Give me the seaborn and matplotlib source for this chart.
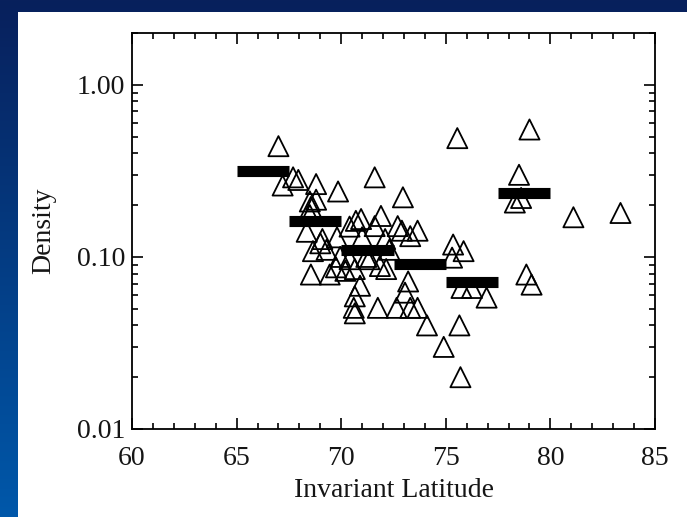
import numpy as np
import pandas as pd
import matplotlib
matplotlib.use("Agg")
import matplotlib.pyplot as plt
import matplotlib.ticker as mticker
import seaborn as sns

# ---- data ----
latitude = [67.0, 67.2, 67.7, 67.95, 68.8, 69.85, 68.5, 68.8, 68.55, 68.5,
            68.35, 68.65, 68.55, 69.1, 69.3, 69.45, 69.75, 69.8, 69.95, 70.4,
            70.7, 70.95, 70.65, 70.4, 70.65, 70.6, 70.65, 70.9, 71.6, 71.35,
            71.6, 71.9, 71.85, 72.15, 72.1, 72.7, 72.95, 72.9, 73.3, 73.65,
            73.2, 73.05, 71.75, 72.65, 73.3, 73.65, 74.1, 74.9, 75.65, 75.7,
            75.55, 75.35, 75.85, 75.3, 75.75, 76.25, 76.95, 78.5, 78.3, 78.6,
            79.0, 78.85, 79.1, 81.1, 83.35, 72.3, 71.2, 69.0, 70.2, 71.0]
density = [0.44, 0.26, 0.29, 0.28, 0.265, 0.24, 0.21, 0.215, 0.195, 0.175,
           0.14, 0.108, 0.079, 0.127, 0.11, 0.079, 0.087, 0.13, 0.10, 0.15,
           0.162, 0.166, 0.085, 0.097, 0.059, 0.0506, 0.047, 0.068, 0.29, 0.097,
           0.151, 0.173, 0.0885, 0.085, 0.127, 0.151, 0.222, 0.142, 0.132, 0.142,
           0.072, 0.062, 0.0506, 0.0506, 0.0506, 0.0506, 0.040, 0.030, 0.040, 0.020,
           0.49, 0.118, 0.108, 0.099, 0.066, 0.066, 0.058, 0.30, 0.207, 0.22,
           0.55, 0.079, 0.069, 0.17, 0.18, 0.11, 0.10, 0.12, 0.083, 0.13]

bin_start = [65.0, 67.5, 70.0, 72.5, 75.0, 77.5]
bin_end = [67.5, 70.0, 72.5, 75.0, 77.5, 80.0]
bin_mean = [0.317, 0.162, 0.110, 0.0910, 0.0718, 0.235]

x_ticks = [60, 65, 70, 75, 80, 85]
y_ticks = [0.01, 0.1, 1.0]
y_tick_labels = ["0.01", "0.10", "1.00"]

# ---- style ----
sns.set_theme(style="ticks")
plt.rcParams["font.family"] = ["Liberation Serif", "DejaVu Serif"]

W, H = 687, 517
fig = plt.figure(figsize=(W / 100, H / 100), dpi=100)

# blue gradient background
bg = fig.add_axes([0, 0, 1, 1])
grad = np.linspace(0, 1, 256).reshape(-1, 1)
top_c = np.array([0x08, 0x20, 0x5c]) / 255
bot_c = np.array([0x00, 0x58, 0xaa]) / 255
img = top_c[None, None, :] * (1 - grad[:, :, None]) + bot_c[None, None, :] * grad[:, :, None]
bg.imshow(img, aspect="auto", extent=[0, 1, 0, 1])
bg.set_axis_off()

# white panel
panel = fig.add_axes([18 / W, 0, 1 - 18 / W, 1 - 12 / H])
panel.set_facecolor("white")
panel.set_xticks([])
panel.set_yticks([])
for s in panel.spines.values():
    s.set_visible(False)

ax = fig.add_axes([132 / W, 1 - 429 / H, (655 - 132) / W, (429 - 33) / H])
ax.set_facecolor("white")

df = pd.DataFrame({"lat": latitude, "dens": density})
sns.scatterplot(data=df, x="lat", y="dens", marker="^", s=210,
                facecolors="none", edgecolors="black", linewidths=1.3,
                ax=ax, zorder=2, legend=False)
ax.hlines(bin_mean, bin_start, bin_end, colors="black", linewidth=8,
          zorder=3)

ax.set_yscale("log")
ax.set_xlim(60, 85)
ax.set_ylim(0.01, 2.0)
ax.set_xticks(x_ticks)
ax.set_xticklabels([str(t) for t in x_ticks])
ax.xaxis.set_minor_locator(mticker.MultipleLocator(1))
ax.set_yticks(y_ticks)
ax.set_yticklabels(y_tick_labels)
ax.yaxis.set_minor_locator(mticker.LogLocator(base=10, subs=np.arange(2, 10)))
ax.yaxis.set_minor_formatter(mticker.NullFormatter())

ax.tick_params(which="both", direction="in", top=True, right=True,
               color="black", width=1.2)
ax.tick_params(which="major", length=8)
ax.tick_params(which="minor", length=4)
ax.tick_params(axis="x", which="major", pad=12, labelsize=20, labelcolor="#151515")
ax.tick_params(axis="y", which="major", pad=5, labelsize=20, labelcolor="#151515")
for s in ax.spines.values():
    s.set_linewidth(1.3)
    s.set_color("black")
    s.set_visible(True)

ax.set_xlabel("Invariant Latitude", fontsize=20, color="#151515", labelpad=5)
ax.set_ylabel("Density", fontsize=20, color="#151515", labelpad=15)

fig.savefig("out.png", dpi=100)
